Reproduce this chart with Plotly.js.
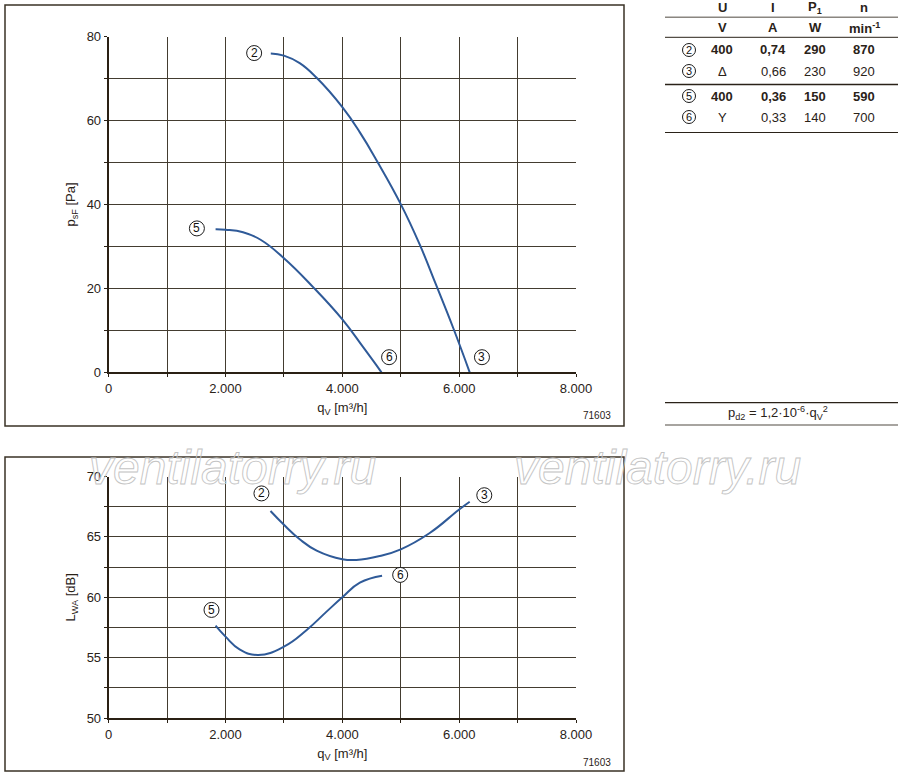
<!DOCTYPE html>
<html><head><meta charset="utf-8">
<script src="https://cdn.plot.ly/plotly-3.0.1.min.js"></script>
<style>html,body{margin:0;padding:0;background:#fff;}#chart{width:900px;height:776px;}</style>
</head><body><div id="chart"></div>
<script>
// ---- data ----
const qvP2 = [2775, 3000, 3270, 3560, 4000, 4300, 4600, 5000, 5320, 5600, 5900, 6180];
const psP2 = [76, 75.5, 73.7, 70.2, 63.2, 57.2, 50.2, 40.1, 30.6, 21, 10.5, 0];
const qvP5 = [1830, 2000, 2300, 2600, 3000, 3500, 4000, 4350, 4670];
const psP5 = [34.1, 34.0, 33.4, 31.6, 27.2, 20.3, 12.6, 6.1, 0];
const qvL2 = [2770, 3000, 3270, 3560, 4000, 4240, 4640, 5000, 5490, 5990, 6180];
const lwL2 = [67.14, 66.0, 64.8, 63.86, 63.15, 63.09, 63.42, 63.97, 65.3, 67.23, 67.91];
const qvL5 = [1830, 2000, 2240, 2560, 3000, 3390, 3730, 4000, 4300, 4680];
const lwL5 = [57.65, 56.74, 55.69, 55.22, 55.91, 57.29, 58.81, 60.0, 61.21, 61.79];
const xTickVals = [0, 1000, 2000, 3000, 4000, 5000, 6000, 7000, 8000];
const xTickText = ['0', ' ', '2.000', ' ', '4.000', ' ', '6.000', ' ', '8.000'];
const pTickVals = [0, 10, 20, 30, 40, 50, 60, 70, 80];
const pTickText = ['0', ' ', '20', ' ', '40', ' ', '60', ' ', '80'];
const lTickVals = [50, 52.5, 55, 57.5, 60, 62.5, 65, 67.5, 70];
const lTickText = ['50', ' ', '55', ' ', '60', ' ', '65', ' ', '70'];
const curveKeys = ['2', '3', '5', '6'];
const tblHead = ['U', 'I', 'P<sub>1</sub>', 'n'];
const tblUnits = ['V', 'A', 'W', 'min<sup>-1</sup>'];
const tblKeys = ['2', '3', '5', '6'];
const tblU = ['400', 'Δ', '400', 'Y'];
const tblI = ['0,74', '0,66', '0,36', '0,33'];
const tblP = ['290', '230', '150', '140'];
const tblN = ['870', '920', '590', '700'];
const tblBold = [true, false, true, false];

// ---- helpers ----
const W = 900, H = 776;
const px = x => x / W, py = y => 1 - y / H;
const TXT = '#2a2218', GRID = '#433c30', CURVE = '#2f5a98';
const FONT = 'Liberation Sans, Arial, sans-serif';

function axisX(anchor) {
  return {
    domain: [px(108.7), px(576)], range: [0, 8000], anchor: anchor,
    tickmode: 'array', tickvals: xTickVals, ticktext: xTickText,
    showgrid: true, gridcolor: GRID, gridwidth: 1,
    showline: true, linecolor: '#2a2014', linewidth: 2,
    ticks: 'outside', ticklen: 3, tickcolor: '#2a2014', tickwidth: 1,
    zeroline: false, automargin: false,
    tickfont: {family: FONT, size: 13, color: TXT},
    title: {text: 'q<sub>V</sub> [m³/h]', font: {family: FONT, size: 13, color: TXT}, standoff: 8}
  };
}
function axisY(anchor, dom, rng, tv, tt, title) {
  return {
    domain: dom, range: rng, anchor: anchor,
    tickmode: 'array', tickvals: tv, ticktext: tt,
    showgrid: true, gridcolor: GRID, gridwidth: 1,
    showline: true, linecolor: '#2a2014', linewidth: 2,
    ticks: 'outside', ticklen: 3, tickcolor: '#2a2014', tickwidth: 1,
    zeroline: false, automargin: false,
    tickfont: {family: FONT, size: 13, color: TXT},
    title: {text: title, font: {family: FONT, size: 13, color: TXT}, standoff: 8}
  };
}

const lineStyle = {color: CURVE, width: 2, shape: 'spline', smoothing: 1.3};
const traces = [
  {x: qvP2, y: psP2, xaxis: 'x', yaxis: 'y', mode: 'lines', line: lineStyle, hoverinfo: 'skip'},
  {x: qvP5, y: psP5, xaxis: 'x', yaxis: 'y', mode: 'lines', line: lineStyle, hoverinfo: 'skip'},
  {x: qvL2, y: lwL2, xaxis: 'x2', yaxis: 'y2', mode: 'lines', line: lineStyle, hoverinfo: 'skip'},
  {x: qvL5, y: lwL5, xaxis: 'x2', yaxis: 'y2', mode: 'lines', line: lineStyle, hoverinfo: 'skip'}
];

const ann = [];
const shapes = [];
function txt(x, y, t, size, opts) {
  ann.push(Object.assign({x: px(x), y: py(y), xref: 'paper', yref: 'paper', text: t,
    showarrow: false, xanchor: 'center', yanchor: 'middle',
    font: {family: FONT, size: size, color: TXT}}, opts || {}));
}
// watermark (outlined, drawn first)
txt(232, 467, 'ventilatorry.ru', 48, {font: {family: FONT, size: 48, color: '#e2e2e2', style: 'italic'}});
txt(657, 467, 'ventilatorry.ru', 48, {font: {family: FONT, size: 48, color: '#e2e2e2', style: 'italic'}});

// circled curve labels (circle in pixels, anchored at a data point)
function circ(x, y, t, xr, yr) {
  shapes.push({type: 'circle', xref: xr, yref: yr, xsizemode: 'pixel', ysizemode: 'pixel',
    xanchor: x, yanchor: y, x0: -7.5, x1: 7.5, y0: -7.5, y1: 7.5,
    line: {color: '#1a1a1a', width: 1}, fillcolor: '#fff'});
  ann.push({x: x, y: y, xref: xr, yref: yr, text: t, showarrow: false,
    xanchor: 'center', yanchor: 'middle',
    font: {family: FONT, size: 12, color: '#111'}});
}
circ(2490, 76.1, curveKeys[0], 'x', 'y');
circ(6390, 3.6, curveKeys[1], 'x', 'y');
circ(1510, 34.3, curveKeys[2], 'x', 'y');
circ(4800, 3.6, curveKeys[3], 'x', 'y');
circ(2615, 68.6, curveKeys[0], 'x2', 'y2');
circ(6430, 68.45, curveKeys[1], 'x2', 'y2');
circ(1760, 58.95, curveKeys[2], 'x2', 'y2');
circ(4990, 61.85, curveKeys[3], 'x2', 'y2');

// code numbers
txt(597, 415, '71603', 10);
txt(597, 762, '71603', 10);

// table
const colX = [722, 773, 815, 864];
const rowY = [50, 71, 96, 117];
tblHead.forEach((h, i) => txt(colX[i], 8, '<b>' + h + '</b>', 13));
tblUnits.forEach((h, i) => txt(colX[i], 28, '<b>' + h + '</b>', 13));
for (let r = 0; r < 4; r++) {
  shapes.push({type: 'circle', xref: 'paper', yref: 'paper',
    x0: px(689 - 6.5), x1: px(689 + 6.5), y0: py(rowY[r] + 6.5), y1: py(rowY[r] - 6.5),
    line: {color: '#1a1a1a', width: 1}});
  txt(689, rowY[r], tblKeys[r], 11, {font: {family: FONT, size: 11, color: '#111'}});
  const vals = [tblU[r], tblI[r], tblP[r], tblN[r]];
  vals.forEach((v, i) => txt(colX[i], rowY[r], tblBold[r] ? '<b>' + v + '</b>' : v, 13));
}
txt(778, 413, 'p<sub>d2</sub> = 1,2·10<sup>-6</sup>·q<sub>V</sub><sup>2</sup>', 13);

function hline(x0, x1, y, color, w) {
  shapes.push({type: 'line', xref: 'paper', yref: 'paper', x0: px(x0), x1: px(x1), y0: py(y), y1: py(y),
    line: {color: color, width: w}});
}
function rect(x0, y0, x1, y1) {
  shapes.push({type: 'rect', xref: 'paper', yref: 'paper', x0: px(x0), x1: px(x1), y0: py(y1), y1: py(y0),
    line: {color: '#3a3226', width: 1.5}, layer: 'below'});
}
rect(5, 5, 624, 426);
rect(5, 457, 624, 771);
hline(665, 898, 17.3, '#8a8680', 1.5);
hline(665, 898, 37.3, '#2a2218', 1);
hline(665, 898, 84.5, '#2a2218', 1.5);
hline(665, 898, 132.5, '#2a2218', 1);
hline(665, 898, 402.7, '#2a2218', 1.2);
hline(665, 898, 425, '#8a8680', 1.5);

const layout = {
  width: W, height: H, margin: {l: 0, r: 0, t: 0, b: 0},
  paper_bgcolor: '#fff', plot_bgcolor: '#fff', showlegend: false,
  xaxis: axisX('y'),
  yaxis: axisY('x', [py(372.3), py(36.7)], [0, 80], pTickVals, pTickText, 'p<sub>sF</sub> [Pa]'),
  xaxis2: axisX('y2'),
  yaxis2: axisY('x2', [py(718), py(476.5)], [50, 70], lTickVals, lTickText, 'L<sub>WA</sub> [dB]'),
  annotations: ann, shapes: shapes
};
Plotly.newPlot('chart', traces, layout, {staticPlot: true, displayModeBar: false}).then(() => {
  document.querySelectorAll('.annotation-text').forEach(el => {
    if (el.textContent === 'ventilatorry.ru') {
      el.style.fill = 'none';
      el.style.stroke = '#c4c4c4';
      el.style.strokeWidth = '0.9px';
    }
  });
});
</script></body></html>
